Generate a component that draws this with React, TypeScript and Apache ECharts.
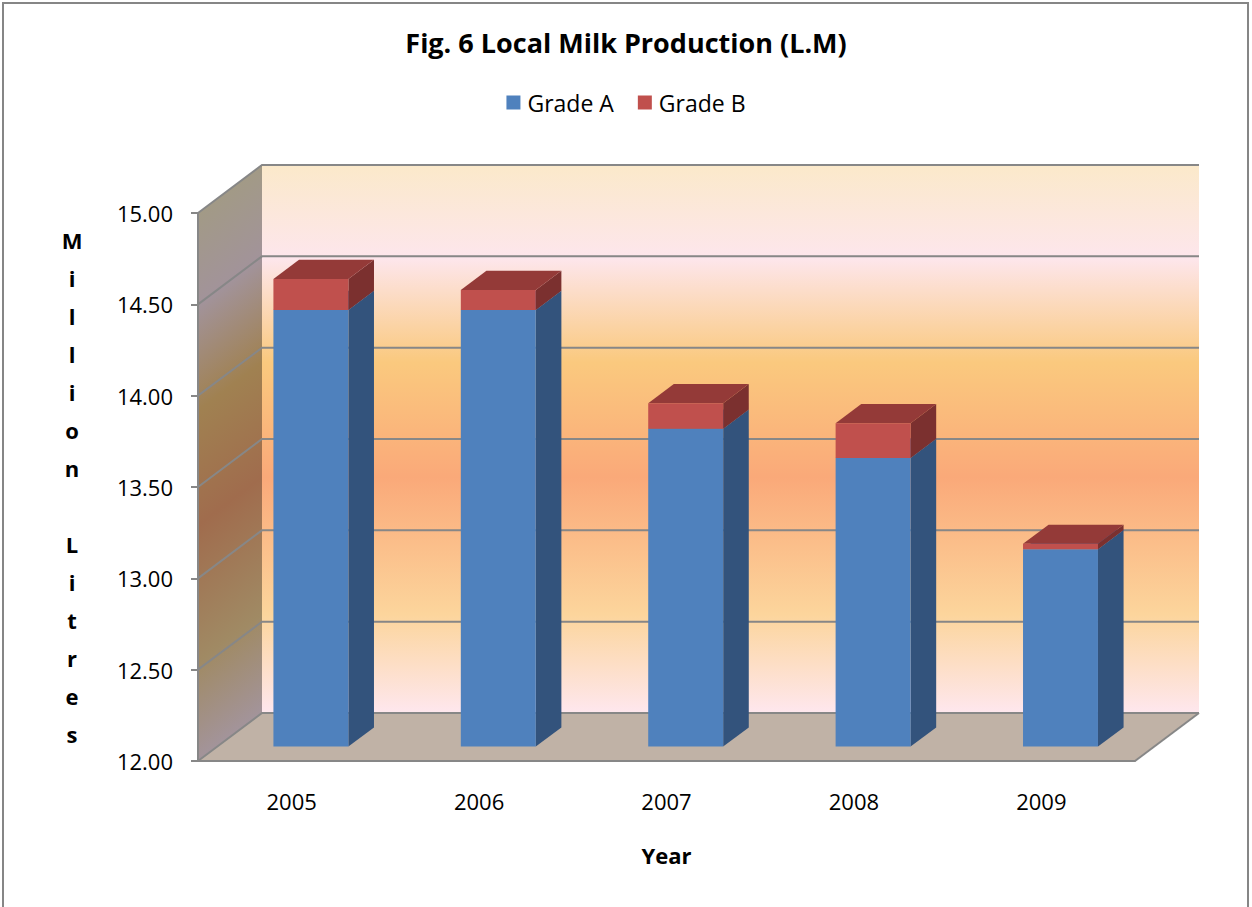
import React, { useEffect, useRef } from "react";
import * as echarts from "echarts";

// Categories and values (million litres)
const years = ["2005", "2006", "2007", "2008", "2009"];
const gradeA = [14.39, 14.39, 13.74, 13.58, 13.08];
const gradeB = [0.17, 0.11, 0.14, 0.19, 0.03];
const yTicks = [12, 12.5, 13, 13.5, 14, 14.5, 15];

const Y_MIN = 12;
const Y_MAX = 15;
const Y_STEP = 0.5;

// Oblique 3D projection: wall depth offset in pixels
const DEPTH_X = 64;
const DEPTH_Y = -48;
// bar depth occupies 0.3..0.7 of the floor depth, width 40% of the band
const BAR_F1 = 0.3;
const BAR_F2 = 0.7;
const BAR_W = 0.4;

const FONT = "'Open Sans', Lato, sans-serif";
const GRID_COLOR = "#878787";

const wallStops = [
  { offset: 0, color: "#fbe9ca" },
  { offset: 0.17, color: "#fde6ec" },
  { offset: 0.36, color: "#fac97e" },
  { offset: 0.57, color: "#faa979" },
  { offset: 0.82, color: "#fcd59c" },
  { offset: 1, color: "#fee7ee" },
];
const sideStops = [
  { offset: 0, color: "#a29a86" },
  { offset: 0.17, color: "#a2939a" },
  { offset: 0.36, color: "#a08151" },
  { offset: 0.57, color: "#a06c4d" },
  { offset: 0.82, color: "#a08a64" },
  { offset: 1, color: "#a3949b" },
];

function renderWalls(params: any, api: any) {
  const bw = api.size([1, 0])[0];
  const c0 = api.coord([0, Y_MIN]);
  const xL = c0[0] - bw / 2;
  const xR = xL + bw * years.length;
  const yBot = c0[1];
  const yTop = api.coord([0, Y_MAX])[1];
  const dx = DEPTH_X;
  const dy = DEPTH_Y;

  const children: any[] = [];

  // back wall
  children.push({
    type: "rect",
    shape: { x: xL + dx, y: yTop + dy, width: xR - xL, height: yBot - yTop },
    style: {
      fill: new echarts.graphic.LinearGradient(0, 0, 0, 1, wallStops),
    },
  });

  // side wall, gradient running across the slanted value bands
  const span = yBot - yTop;
  const len = Math.hypot(dx, dy);
  const nx = -dy / len;
  const ny = dx / len;
  const proj = span * ny;
  children.push({
    type: "polygon",
    shape: {
      points: [
        [xL, yTop],
        [xL + dx, yTop + dy],
        [xL + dx, yBot + dy],
        [xL, yBot],
      ],
    },
    style: {
      fill: new echarts.graphic.LinearGradient(
        xL,
        yTop,
        xL + proj * nx,
        yTop + proj * ny,
        sideStops,
        true
      ),
    },
  });

  // floor
  children.push({
    type: "polygon",
    shape: {
      points: [
        [xL, yBot],
        [xL + dx, yBot + dy],
        [xR + dx, yBot + dy],
        [xR, yBot],
      ],
    },
    style: { fill: "#c0b2a6" },
  });

  // grid lines on the side and back walls
  yTicks.forEach((v) => {
    const y = api.coord([0, v])[1];
    children.push({
      type: "polyline",
      shape: {
        points: [
          [xL, y],
          [xL + dx, y + dy],
          [xR + dx, y + dy],
        ],
      },
      style: { fill: "none", stroke: GRID_COLOR, lineWidth: 2 },
    });
  });

  // right edge of the floor
  children.push({
    type: "line",
    shape: { x1: xR + dx, y1: yBot + dy, x2: xR, y2: yBot },
    style: { stroke: GRID_COLOR, lineWidth: 2 },
  });

  return { type: "group", children };
}

function makeBarRenderer(front: string, side: string, top: string) {
  return (params: any, api: any) => {
    const i = api.value(0);
    const lo = api.value(1);
    const hi = api.value(2);
    const pLo = api.coord([i, lo]);
    const pHi = api.coord([i, hi]);
    const bw = api.size([1, 0])[0];
    const w = bw * BAR_W;
    const xl = pLo[0] - w / 2;
    const xr = xl + w;
    const yLo = pLo[1];
    const yHi = pHi[1];
    const ax = BAR_F1 * DEPTH_X;
    const ay = BAR_F1 * DEPTH_Y;
    const bx = BAR_F2 * DEPTH_X;
    const by = BAR_F2 * DEPTH_Y;
    return {
      type: "group",
      children: [
        {
          type: "polygon",
          shape: {
            points: [
              [xr + ax, yLo + ay],
              [xr + bx, yLo + by],
              [xr + bx, yHi + by],
              [xr + ax, yHi + ay],
            ],
          },
          style: { fill: side },
        },
        {
          type: "polygon",
          shape: {
            points: [
              [xl + ax, yHi + ay],
              [xr + ax, yHi + ay],
              [xr + bx, yHi + by],
              [xl + bx, yHi + by],
            ],
          },
          style: { fill: top },
        },
        {
          type: "rect",
          shape: { x: xl + ax, y: yHi + ay, width: w, height: yLo - yHi },
          style: { fill: front },
        },
      ],
    };
  };
}

export default function App() {
  const ref = useRef<HTMLDivElement>(null);

  useEffect(() => {
    document.body.style.margin = "0";
    if (!ref.current) return;
    const chart = echarts.init(ref.current, undefined, { renderer: "svg" });

    const dataA = years.map((_, i) => [i, Y_MIN, gradeA[i]]);
    const dataB = years.map((_, i) => [i, gradeA[i], gradeA[i] + gradeB[i]]);

    chart.setOption({
      animation: false,
      backgroundColor: "#ffffff",
      textStyle: { fontFamily: FONT },
      graphic: [
        {
          type: "rect",
          shape: { x: 3, y: 3, width: 1245, height: 960 },
          style: { fill: "none", stroke: "#868686", lineWidth: 2 },
          silent: true,
          z: 100,
        },
      ],
      title: {
        text: "Fig. 6 Local Milk Production (L.M)",
        left: "center",
        top: 24,
        textStyle: {
          fontFamily: FONT,
          fontSize: 27,
          fontWeight: "bold",
          color: "#000",
        },
      },
      legend: {
        top: 91,
        left: "center",
        padding: 0,
        icon: "rect",
        itemWidth: 14,
        itemHeight: 14,
        itemGap: 24,
        data: ["Grade A", "Grade B"],
        textStyle: { fontFamily: FONT, fontSize: 23, color: "#000", padding: [0, 0, 0, 2] },
      },
      grid: { left: 198, right: 117, top: 213, bottom: 146 },
      xAxis: {
        type: "category",
        data: years,
        z: 10,
        axisLine: { lineStyle: { color: GRID_COLOR, width: 2 } },
        axisTick: { length: 7, lineStyle: { color: GRID_COLOR, width: 2 } },
        axisLabel: { fontFamily: FONT, fontSize: 22, color: "#000", margin: 29 },
        name: "Year",
        nameLocation: "middle",
        nameGap: 83,
        nameTextStyle: {
          fontFamily: FONT,
          fontSize: 22,
          fontWeight: "bold",
          color: "#000",
          verticalAlign: "top",
        },
      },
      yAxis: {
        type: "value",
        min: Y_MIN,
        max: Y_MAX,
        interval: Y_STEP,
        z: 10,
        axisLine: { show: true, lineStyle: { color: GRID_COLOR, width: 2 } },
        axisTick: { show: true, length: 7, lineStyle: { color: GRID_COLOR, width: 2 } },
        splitLine: { show: false },
        axisLabel: {
          fontFamily: FONT,
          fontSize: 22,
          color: "#000",
          margin: 25,
          formatter: (v: number) => v.toFixed(2),
        },
        name: "M\ni\nl\nl\ni\no\nn\n\nL\ni\nt\nr\ne\ns",
        nameLocation: "middle",
        nameRotate: 0,
        nameGap: 126,
        nameTextStyle: {
          fontFamily: FONT,
          fontSize: 22,
          fontWeight: "bold",
          color: "#000",
          lineHeight: 38,
          align: "center",
          verticalAlign: "middle",
          padding: [8, 0, 0, 0],
        },
      },
      series: [
        {
          type: "custom",
          name: "walls",
          z: 1,
          silent: true,
          renderItem: renderWalls,
          data: [[0, Y_MIN, Y_MAX]],
          encode: { x: 0, y: [1, 2] },
        },
        {
          type: "custom",
          name: "Grade A",
          z: 2,
          itemStyle: { color: "#4f81bd" },
          renderItem: makeBarRenderer("#4f81bd", "#33537c", "#3f6797"),
          data: dataA,
          encode: { x: 0, y: [1, 2] },
        },
        {
          type: "custom",
          name: "Grade B",
          z: 3,
          itemStyle: { color: "#c0504d" },
          renderItem: makeBarRenderer("#c0504d", "#7b302f", "#943a38"),
          data: dataB,
          encode: { x: 0, y: [1, 2] },
        },
      ],
    });

    return () => chart.dispose();
  }, []);

  return <div ref={ref} style={{ width: 1252, height: 907 }} />;
}
